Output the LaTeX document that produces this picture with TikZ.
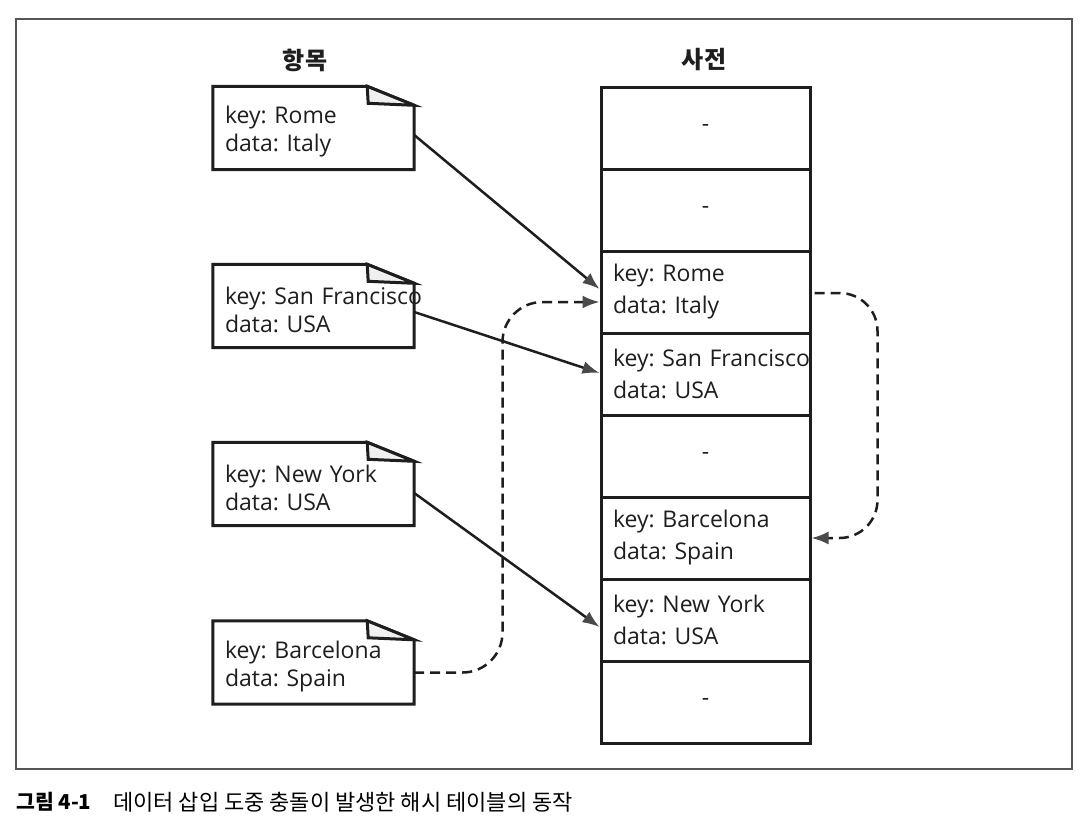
\documentclass[tikz,border=0pt]{standalone}
\usepackage{fontspec}
\setmainfont{Open Sans}
\newfontfamily\kr{Noto Sans CJK KR}
\usetikzlibrary{arrows.meta,calc}
\definecolor{ink}{HTML}{1E1E1E}
\definecolor{tipgray}{HTML}{4A4A4A}
\definecolor{framegray}{HTML}{555555}
\frenchspacing
\newcommand\notefold[1]{%
  \draw[noteline] (#1.north west) -- ($(#1.north east)+(-47,0)$) -- ($(#1.north east)+(0,19)$) -- (#1.south east) -- (#1.south west) -- cycle;
  \draw[noteline, fill=gray!12] ($(#1.north east)+(-47,0)$) -- ($(#1.north east)+(-46,17)$) -- ($(#1.north east)+(0,19)$) -- cycle;}
\begin{document}
\begin{tikzpicture}[x=1pt,y=-1pt,
  noteline/.style={draw=ink, line width=3pt, line join=miter},
  notebox/.style={minimum width=201pt, minimum height=83pt, inner sep=0pt},
  notetext/.style={text width=177pt, inner xsep=12pt, inner ysep=0pt, align=left,
    font=\frenchspacing\fontsize{23}{28}\selectfont, text=ink},
  cell/.style={draw=ink, line width=3pt, minimum width=209pt, minimum height=82pt, inner sep=0pt,
    font=\frenchspacing\fontsize{23}{32}\selectfont, text=ink},
  fullcell/.style={cell, text width=185pt, inner xsep=12pt, align=left},
  title/.style={font=\kr\bfseries\fontsize{24}{28}\selectfont, text=ink},
  arr/.style={draw=ink, line width=2.5pt, -{Latex[length=17pt,width=13pt,color=tipgray,fill=tipgray]}},
  dasharr/.style={arr, dash pattern=on 10pt off 6pt}
]
\useasboundingbox (0,0) rectangle (1092,830);
\fill[white] (0,0) rectangle (1092,830);
\draw[framegray, line width=1.6pt] (16,19) rectangle (1072,769);

% titles
\node[title] (t1) at (305,60) {항목};
\node[title] (t2) at (704,60) {사전};

% notes
\node[notebox] (n1) at (313.5,128) {};
\node[notebox] (n2) at (313.5,306) {};
\node[notebox] (n3) at (313.5,484) {};
\node[notebox] (n4) at (313.5,662.5) {};
\notefold{n1}\notefold{n2}\notefold{n3}\notefold{n4}
\node[notetext] (n1t) at ($(n1.center)+(0,4)$) {\mbox{key: Rome}\\\mbox{data: Italy}};
\node[notetext] (n2t) at ($(n2.center)+(0,4)$) {\mbox{key: San Francisco}\\\mbox{data: USA}};
\node[notetext] (n3t) at ($(n3.center)+(0,4)$) {\mbox{key: New York}\\\mbox{data: USA}};
\node[notetext] (n4t) at ($(n4.center)+(0,4)$) {\mbox{key: Barcelona}\\\mbox{data: Spain}};

% table
\node[cell] (r1) at (705.5,128) {-};
\node[cell] (r2) at (705.5,210) {-};
\node[fullcell] (r3) at (705.5,292) {\mbox{key: Rome}\\\mbox{data: Italy}};
\node[fullcell] (r4) at (705.5,374) {\mbox{key: San Francisco}\\\mbox{data: USA}};
\node[cell] (r5) at (705.5,456) {-};
\node[fullcell] (r6) at (705.5,538) {\mbox{key: Barcelona}\\\mbox{data: Spain}};
\node[fullcell] (r7) at (705.5,620) {\mbox{key: New York}\\\mbox{data: USA}};
\node[cell] (r8) at (705.5,702) {-};

% connectors
\draw[arr] ($(n1.east)+(0,7)$) -- ($(r3.west)+(0,-3)$);
\draw[arr] ($(n2.east)+(0,6)$) -- ($(r4.west)+(0,-1)$);
\draw[arr] ($(n3.east)+(0,9)$) -- ($(r7.west)+(0,7)$);
\draw[dasharr, rounded corners=40pt] ($(n4.east)+(0,10)$) -| ($(r3.west)+(-97,10)$) -- ($(r3.west)+(0,10)$);
\draw[dasharr, rounded corners=38pt] ($(r3.east)+(3,1)$) -- ($(r3.east)+(66,1)$) |- (r6.east);

% caption
\node[anchor=west, inner sep=0pt, font=\kr\bfseries\fontsize{20.5}{24}\selectfont, text=black] (cap1) at (16,802) {그림 4-1};
\node[anchor=west, inner sep=0pt, font=\kr\fontsize{22}{26}\selectfont, text=black] (cap2) at (113,802)
  {데이터 삽입 도중 충돌이 발생한 해시 테이블의 동작};
\end{tikzpicture}
\end{document}
